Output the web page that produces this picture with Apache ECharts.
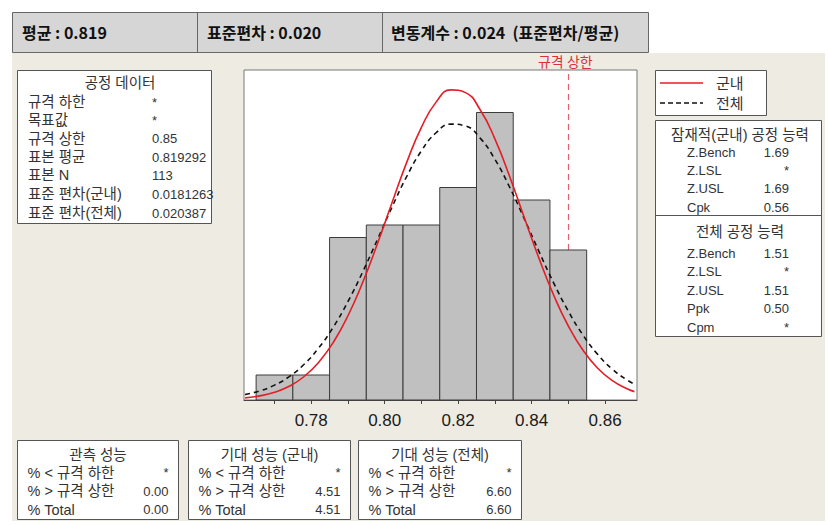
<!DOCTYPE html>
<html>
<head>
<meta charset="utf-8">
<script src="https://cdn.jsdelivr.net/npm/echarts@6/dist/echarts.min.js"></script>
<style>
html,body{margin:0;padding:0;background:#fff;}
#chart{width:828px;height:525px;}
</style>
</head>
<body>
<div id="chart"></div>
<script>
// ---------- data ----------
const binCenters = [0.77, 0.78, 0.79, 0.80, 0.81, 0.82, 0.83, 0.84, 0.85];
const binCounts  = [2, 2, 13, 14, 14, 17, 23, 16, 12];
const binWidth = 0.01;

const curveX   = [0.762,0.766,0.770,0.774,0.778,0.782,0.786,0.790,0.794,0.798,0.802,0.806,0.810,0.814,0.818,0.822,0.826,0.830,0.834,0.838,0.842,0.846,0.850,0.854,0.858,0.862,0.866,0.868];
const withinY  = [0.17,0.33,0.62,1.10,1.86,3.00,4.60,6.74,9.40,12.48,15.78,19.01,21.81,23.83,24.81,24.59,23.22,20.89,17.90,14.60,11.35,8.40,5.92,3.98,2.54,1.55,0.90,0.67];
const overallY = [0.43,0.73,1.19,1.87,2.84,4.15,5.83,7.88,10.24,12.82,15.43,17.88,19.93,21.38,22.07,21.92,20.95,19.26,17.04,14.51,11.89,9.37,7.11,5.19,3.65,2.46,1.60,1.27];

const upperSpec = 0.85;
const upperSpecLabel = '규격 상한';
const xTickValues  = [0.77, 0.78, 0.79, 0.80, 0.81, 0.82, 0.83, 0.84, 0.85, 0.86];
const xLabelValues = [0.78, 0.80, 0.82, 0.84, 0.86];

const headerStats = ['평균 : 0.819', '표준편차 : 0.020', '변동계수 : 0.024 \u00a0(표준편차/평균)'];

const processTitle  = '공정 데이터';
const processLabels = ['규격 하한', '목표값', '규격 상한', '표본 평균', '표본 N', '표준 편차(군내)', '표준 편차(전체)'];
const processValues = ['*', '*', '0.85', '0.819292', '113', '0.0181263', '0.020387'];

const legendNames = ['군내', '전체'];

const withinTitle  = '잠재적(군내) 공정 능력';
const withinLabels = ['Z.Bench', 'Z.LSL', 'Z.USL', 'Cpk'];
const withinValues = ['1.69', '*', '1.69', '0.56'];
const overallTitle  = '전체 공정 능력';
const overallLabels = ['Z.Bench', 'Z.LSL', 'Z.USL', 'Ppk', 'Cpm'];
const overallValues = ['1.51', '*', '1.51', '0.50', '*'];

const perfTitles = ['관측 성능', '기대 성능 (군내)', '기대 성능 (전체)'];
const perfLabels = ['% < 규격 하한', '% > 규격 상한', '% Total'];
const perfValues = [['*', '0.00', '0.00'], ['*', '4.51', '4.51'], ['*', '6.60', '6.60']];

// ---------- build ----------
const KFONT = '"Liberation Sans", "Noto Sans CJK KR", sans-serif';
const HFONT = '"Noto Sans CJK KR", "Noto Sans", sans-serif';
const LAB = '14.5px ' + KFONT;
const VAL = '13px ' + KFONT;
const TXT = '#333333';
function t(x, y, text, o) {
  o = o || {};
  return {
    type: 'text', x: x, y: y, silent: true, z: 100,
    style: {
      text: text,
      font: o.font || LAB,
      fill: o.fill || TXT,
      align: o.align || 'left', textAlign: o.align || 'left',
      verticalAlign: 'middle', textVerticalAlign: 'middle'
    }
  };
}
function box(x, y, w, h, fill, stroke) {
  return { type: 'rect', silent: true, z: 90,
    shape: { x: x, y: y, width: w, height: h },
    style: { fill: fill || '#fff', stroke: stroke || '#555', lineWidth: 1 } };
}
function hline(x1, x2, y, color, dash) {
  return { type: 'line', silent: true, z: 95,
    shape: { x1: x1, y1: y, x2: x2, y2: y },
    style: { stroke: color || '#555', lineWidth: 1.5, lineDash: dash || null } };
}

const g = [];
// beige panel
g.push({ type: 'rect', silent: true, z: -10, shape: { x: 12, y: 53, width: 813, height: 468 }, style: { fill: '#EEEBE2' } });
// header
g.push(box(12.5, 12.5, 636, 40, '#D6D6D6', '#666'));
g.push({ type: 'line', silent: true, z: 95, shape: { x1: 197.5, y1: 12.5, x2: 197.5, y2: 52.5 }, style: { stroke: '#666', lineWidth: 1 } });
g.push({ type: 'line', silent: true, z: 95, shape: { x1: 382.5, y1: 12.5, x2: 382.5, y2: 52.5 }, style: { stroke: '#666', lineWidth: 1 } });
const headerX = [22, 207, 391];
headerStats.forEach((s, i) => g.push(t(headerX[i], 32, s, { font: 'bold 16px ' + HFONT, fill: '#111' })));

// process data box
g.push(box(17.5, 70.5, 194, 153));
g.push(t(120, 83, processTitle, { align: 'center' }));
const procY = [102, 120, 138.5, 157, 175, 194, 213];
processLabels.forEach((s, i) => {
  g.push(t(28, procY[i], s));
  g.push(t(152, procY[i], processValues[i], { font: VAL }));
});

// legend box
g.push(box(655.5, 70.5, 111, 45));
g.push(hline(660, 703, 83, '#E41E26'));
g.push(t(716, 83, legendNames[0], { font: '15px ' + KFONT }));
g.push(hline(660, 703, 103, '#111', [5, 3]));
g.push(t(716, 103, legendNames[1], { font: '15px ' + KFONT }));

// capability box
g.push(box(655.5, 120.5, 166, 216));
g.push({ type: 'line', silent: true, z: 95, shape: { x1: 655.5, y1: 215.5, x2: 821.5, y2: 215.5 }, style: { stroke: '#555', lineWidth: 1 } });
g.push(t(740, 135, withinTitle, { align: 'center' }));
const wY = [152, 170, 188.5, 207];
withinLabels.forEach((s, i) => {
  g.push(t(687, wY[i], s, { font: VAL }));
  g.push(t(789, wY[i], withinValues[i], { align: 'right', font: VAL }));
});
g.push(t(740, 232, overallTitle, { align: 'center' }));
const oY = [253, 271.5, 290, 308.5, 327];
overallLabels.forEach((s, i) => {
  g.push(t(687, oY[i], s, { font: VAL }));
  g.push(t(789, oY[i], overallValues[i], { align: 'right', font: VAL }));
});

// performance boxes
const pBoxX = [17.5, 188.5, 358.5];
const pBoxW = [161, 162, 163];
const pRowY = [472.5, 491, 509.5];
perfTitles.forEach((title, b) => {
  const x0 = pBoxX[b], w = pBoxW[b];
  g.push(box(x0, 440.5, w, 79));
  g.push(t(x0 + w / 2, 455, title, { align: 'center' }));
  perfLabels.forEach((s, i) => {
    g.push(t(x0 + 10, pRowY[i], s));
    g.push(t(x0 + w - 10, pRowY[i], perfValues[b][i], { align: 'right', font: VAL }));
  });
});

const chart = echarts.init(document.getElementById('chart'), null, { renderer: 'svg', width: 828, height: 525 });
const option = {
  animation: false,
  backgroundColor: '#ffffff',
  grid: { left: 244, top: 70, width: 393, height: 330, show: true, backgroundColor: '#ffffff', borderColor: '#777', borderWidth: 1 },
  xAxis: {
    type: 'value', min: 0.7617, max: 0.8687,
    axisLine: { show: true, lineStyle: { color: '#444', width: 1 } },
    axisTick: { show: true, customValues: xTickValues, length: 4, inside: false, lineStyle: { color: '#444' } },
    axisLabel: { customValues: xLabelValues, formatter: v => Number(v).toFixed(2), fontSize: 17, fontFamily: '"Liberation Sans", Arial, sans-serif', color: '#1a1a1a', margin: 12 },
    splitLine: { show: false }
  },
  yAxis: { type: 'value', min: 0, max: 26.4, show: false, splitLine: { show: false } },
  series: [
    {
      name: 'spec', type: 'line', data: [], z: 1,
      markLine: {
        silent: true, symbol: ['none', 'none'], z: 1,
        lineStyle: { color: '#E0606E', type: [6, 4], width: 1.2 },
        label: { show: true, position: 'end', formatter: upperSpecLabel, color: '#D9303E', fontSize: 14, fontFamily: HFONT, distance: 2, offset: [-3, 0] },
        data: [{ xAxis: upperSpec }]
      }
    },
    {
      name: 'hist', type: 'custom', z: 10,
      data: binCenters.map((c, i) => [c, binCounts[i]]),
      encode: { x: 0, y: 1 },
      renderItem: function (params, api) {
        const c = api.value(0), n = api.value(1);
        const p0 = api.coord([c - binWidth / 2, n]);
        const p1 = api.coord([c + binWidth / 2, 0]);
        return { type: 'rect',
          shape: { x: p0[0], y: p0[1], width: p1[0] - p0[0], height: p1[1] - p0[1] },
          style: { fill: '#C0C0C0', stroke: '#3c3c3c', lineWidth: 1 } };
      }
    },
    {
      name: legendNames[1], type: 'line', z: 11, smooth: true, showSymbol: false, symbol: 'none',
      data: curveX.map((x, i) => [x, overallY[i]]),
      lineStyle: { color: '#111', width: 1.6, type: [5, 4] }
    },
    {
      name: legendNames[0], type: 'line', z: 12, smooth: true, showSymbol: false, symbol: 'none',
      data: curveX.map((x, i) => [x, withinY[i]]),
      lineStyle: { color: '#E41E26', width: 1.6 }
    }
  ],
  graphic: { elements: g }
};
chart.setOption(option);
</script>
</body>
</html>
